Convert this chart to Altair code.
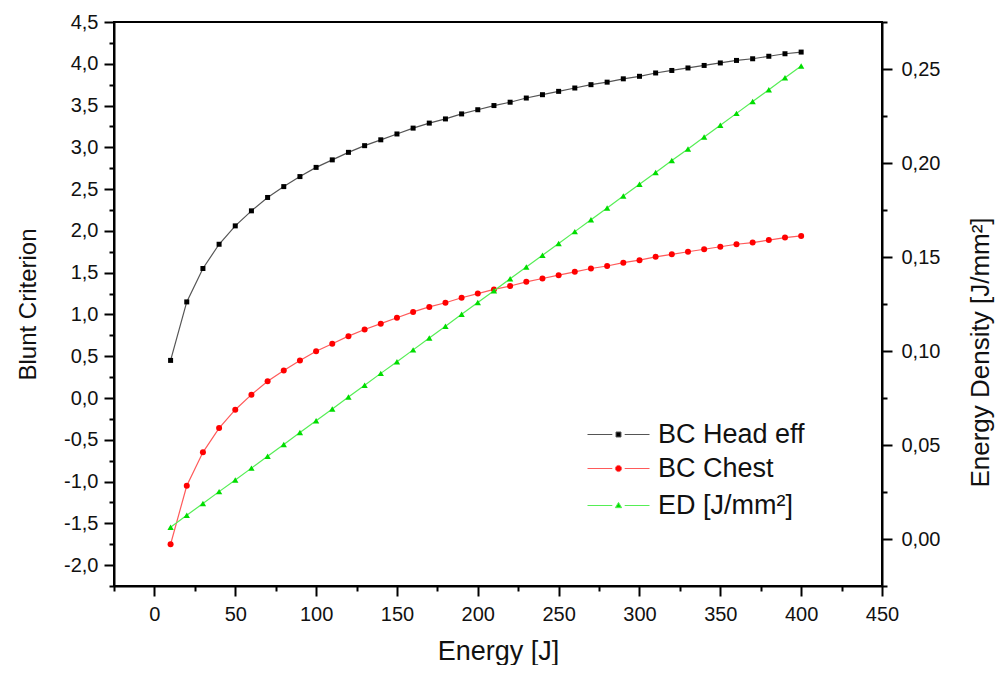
import altair as alt
import pandas as pd

energy = [10, 20, 30, 40, 50, 60, 70, 80, 90, 100, 110, 120, 130, 140, 150, 160, 170, 180, 190, 200,
          210, 220, 230, 240, 250, 260, 270, 280, 290, 300, 310, 320, 330, 340, 350, 360, 370, 380, 390, 400]
bc_head = [0.45, 1.15, 1.55, 1.84, 2.06, 2.24, 2.40, 2.53, 2.65, 2.76, 2.85, 2.94, 3.02, 3.09, 3.16, 3.23,
           3.29, 3.34, 3.40, 3.45, 3.50, 3.54, 3.59, 3.63, 3.67, 3.71, 3.75, 3.78, 3.82, 3.85, 3.89, 3.92,
           3.95, 3.98, 4.01, 4.04, 4.06, 4.09, 4.12, 4.14]
bc_chest = [-1.75, -1.05, -0.65, -0.36, -0.14, 0.04, 0.20, 0.33, 0.45, 0.56, 0.65, 0.74, 0.82, 0.89, 0.96,
            1.03, 1.09, 1.14, 1.20, 1.25, 1.30, 1.34, 1.39, 1.43, 1.47, 1.51, 1.55, 1.58, 1.62, 1.65, 1.69,
            1.72, 1.75, 1.78, 1.81, 1.84, 1.86, 1.89, 1.92, 1.94]
ed = [0.0063, 0.0126, 0.0189, 0.0252, 0.0314, 0.0377, 0.0440, 0.0503, 0.0566, 0.0629, 0.0692, 0.0755,
      0.0818, 0.0881, 0.0943, 0.1006, 0.1069, 0.1132, 0.1195, 0.1258, 0.1321, 0.1384, 0.1447, 0.1509,
      0.1572, 0.1635, 0.1698, 0.1761, 0.1824, 0.1887, 0.1950, 0.2013, 0.2075, 0.2138, 0.2201, 0.2264,
      0.2327, 0.2390, 0.2453, 0.2516]

series_names = ["BC Head eff", "BC Chest", "ED [J/mm²]"]

x_major_ticks = [0, 50, 100, 150, 200, 250, 300, 350, 400, 450]
x_minor_ticks = [-25, 25, 75, 125, 175, 225, 275, 325, 375, 425]
y_major_ticks = [-2.0, -1.5, -1.0, -0.5, 0.0, 0.5, 1.0, 1.5, 2.0, 2.5, 3.0, 3.5, 4.0, 4.5]
y_minor_ticks = [-2.25, -1.75, -1.25, -0.75, -0.25, 0.25, 0.75, 1.25, 1.75, 2.25, 2.75, 3.25, 3.75, 4.25]
y2_major_ticks = [0.0, 0.05, 0.1, 0.15, 0.2, 0.25]
y2_minor_ticks = [-0.025, 0.025, 0.075, 0.125, 0.175, 0.225, 0.275]

FONT = "Liberation Sans"
COMMA1 = "replace(replace(format(datum.value, '.1f'), '.', ','), '\u2212', '-')"
COMMA2 = "replace(replace(format(datum.value, '.2f'), '.', ','), '\u2212', '-')"

df_head = pd.DataFrame({"energy": energy, "value": bc_head, "series": series_names[0]})
df_chest = pd.DataFrame({"energy": energy, "value": bc_chest, "series": series_names[1]})
df_ed = pd.DataFrame({"energy": energy, "value": ed, "series": series_names[2]})

x_scale = alt.Scale(domain=[-25, 450], nice=False, zero=False)
y_scale = alt.Scale(domain=[-2.25, 4.5], nice=False, zero=False)
y2_scale = alt.Scale(domain=[-0.025, 0.275], nice=False, zero=False)

x_major = alt.X("energy:Q", scale=x_scale, axis=alt.Axis(
    values=x_major_ticks, title="Energy [J]", orient="bottom", tickSize=10, labelPadding=8,
    labelFlush=False, titlePadding=14, titleFontSize=27, grid=False))
x_minor = alt.X("energy:Q", scale=x_scale, axis=alt.Axis(
    values=x_minor_ticks, title=None, orient="bottom", tickSize=5, labels=False, domain=False, grid=False))

y_major = alt.Y("value:Q", scale=y_scale, axis=alt.Axis(
    values=y_major_ticks, title="Blunt Criterion", orient="left", tickSize=10, labelPadding=6,
    labelFlush=False, labelExpr=COMMA1, titlePadding=23, grid=False))
y_minor = alt.Y("value:Q", scale=y_scale, axis=alt.Axis(
    values=y_minor_ticks, title=None, orient="left", tickSize=5, labels=False, domain=False, grid=False))

y2_major = alt.Y("value:Q", scale=y2_scale, axis=alt.Axis(
    values=y2_major_ticks, title="Energy Density [J/mm²]", orient="right", tickSize=10, labelPadding=9,
    labelFlush=False, labelExpr=COMMA2, titleAngle=270, titleBaseline="top", titleAlign="center",
    titleX=85, titleY=330, titleFontSize=26, grid=False))
y2_minor = alt.Y("value:Q", scale=y2_scale, axis=alt.Axis(
    values=y2_minor_ticks, title=None, orient="right", tickSize=5, labels=False, domain=False, grid=False))

SYM = 3844
legend_common = dict(
    orient="none", title=None, symbolSize=SYM, symbolStrokeWidth=1, labelFont=FONT,
    labelFontSize=27, labelColor="#111", labelOffset=8, padding=0, legendX=473,
)


def line_layer(df, x_enc, y_enc, line_color):
    return alt.Chart(df).mark_line(color=line_color, strokeWidth=1.2).encode(x=x_enc, y=y_enc)


def point_layer(df, x_enc, y_enc, line_color, pt_color, shape, size, path, legend_y, name):
    return alt.Chart(df).mark_point(filled=True, shape=shape, size=size, opacity=1).encode(
        x=x_enc,
        y=y_enc,
        color=alt.Color(
            "series:N",
            scale=alt.Scale(domain=[name], range=[pt_color]),
            legend=alt.Legend(symbolType=path, symbolStrokeColor=line_color, legendY=legend_y, **legend_common),
        ),
    )


head_path = "M-1,0H-0.2M0.2,0H1M-0.08,-0.08H0.08V0.08H-0.08Z"
chest_path = "M-1,0H-0.2M0.2,0H1M-0.1,0A0.1,0.1,0,1,0,0.1,0A0.1,0.1,0,1,0,-0.1,0Z"
ed_path = "M-1,0H-0.2M0.2,0H1M0,-0.1L0.1,0.07L-0.1,0.07Z"

head = alt.layer(
    line_layer(df_head, x_major, y_major, "#555555"),
    point_layer(df_head, x_major, y_major, "#555555", "#000000", "square", 25, head_path, 381, series_names[0]),
)
chest = alt.layer(
    line_layer(df_chest, x_major, y_minor, "#ff5a5a"),
    point_layer(df_chest, x_major, y_minor, "#ff5a5a", "#ff0000", "circle", 36, chest_path, 415, series_names[1]),
)
left_group = alt.layer(head, chest).resolve_scale(color="independent").resolve_axis(y="independent")

edl = alt.layer(
    line_layer(df_ed, x_minor, y2_major, "#55ee55"),
    point_layer(df_ed, x_minor, y2_minor, "#55ee55", "#00dd00", "triangle-up", 40, ed_path, 452, series_names[2]),
).resolve_axis(y="independent")

chart = (
    alt.layer(left_group, edl)
    .resolve_scale(y="independent", color="independent")
    .resolve_axis(x="independent")
    .properties(
        width=768,
        height=564,
        autosize=alt.AutoSizeParams(type="none"),
        padding={"left": 106, "top": 14, "right": 113, "bottom": 79},
        background="white",
    )
    .configure_view(stroke="black", strokeWidth=2)
    .configure_axis(
        domainColor="black", domainWidth=2, tickColor="black", tickWidth=2,
        labelFont=FONT, labelFontSize=20, labelColor="#111",
        titleFont=FONT, titleFontSize=24, titleFontWeight="normal", titleColor="#111",
    )
)

chart.save("out.html", embed_options={"renderer": "svg", "actions": False})
